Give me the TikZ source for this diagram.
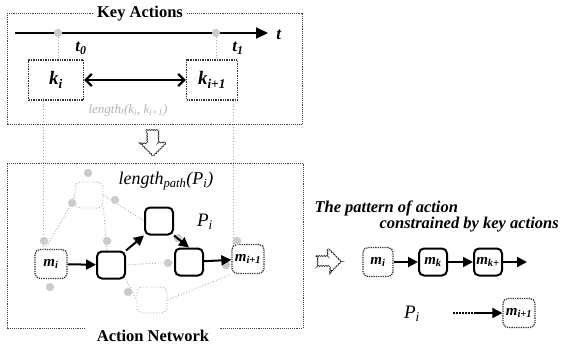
\documentclass[tikz,border=0pt]{standalone}
\usepackage{fontspec}
\setmainfont{Liberation Serif}
\usetikzlibrary{arrows.meta,decorations.pathmorphing}
\newcommand{\bi}[1]{\textbf{\textit{#1}}}
\begin{document}
\begin{tikzpicture}[x=1pt,y=-1pt,
  frame/.style={draw=black!75,densely dotted,line width=0.9pt},
  title/.style={fill=white,inner sep=3pt,font=\fontsize{16.5}{16.5}\selectfont\bfseries},
  hatch/.style={circle,fill=gray!40,draw=gray!60,densely dotted,minimum size=8pt,inner sep=0pt},
  keybox/.style={draw=black!80,densely dotted,line width=1.4pt,minimum height=40pt,inner sep=0pt,font=\fontsize{19}{19}\selectfont},
  mbox/.style={draw=black!80,densely dotted,line width=1.3pt,rounded corners=5pt,minimum width=32pt,minimum height=29pt,inner sep=0pt,font=\fontsize{15}{15}\selectfont},
  act/.style={draw,line width=2pt,rounded corners=5pt,minimum width=28pt,minimum height=27pt,inner sep=0pt,font=\fontsize{15}{15}\selectfont},
  ghost/.style={draw=gray!70,dotted,line width=0.9pt,rounded corners=6pt,minimum width=28pt,minimum height=26pt,inner sep=0pt},
  guide/.style={draw=gray!70,dotted,line width=0.9pt},
  flow/.style={line width=2pt,-{Triangle[length=10pt,width=10pt]}},
  hollow/.style={draw=black!80,line width=0.7pt,decorate,decoration={snake,amplitude=0.5pt,segment length=2.5pt}}]
\useasboundingbox (0,0) rectangle (568,345);

% key actions
\draw[frame] (7,13) rectangle (302,124);
\node[title] (keytitle) at (140,14) {Key Actions};
\coordinate (tstart) at (15,33);
\coordinate (tstop) at (268,33);
\draw[line width=2.2pt,-{Triangle[length=12pt,width=11pt]}] (tstart) -- (tstop);
\node (tlab) at (279,35) {\fontsize{17}{17}\selectfont\bi{t}};
\node[hatch] (d0) at (58,33) {};
\node[hatch] (d1) at (216,33) {};
\node (t0) at (81,48) {\fontsize{17}{17}\selectfont\bi{t\textsubscript{0}}};
\node (t1) at (238,48) {\fontsize{17}{17}\selectfont\bi{t\textsubscript{1}}};
\node[keybox,minimum width=55pt] (ki) at (56,80) {\bi{k\textsubscript{i}}};
\node[keybox,minimum width=51pt] (ki1) at (212,80) {\bi{k\textsubscript{i+1}}};
\draw[guide] (d0) -- (d0 |- ki.north);
\draw[guide] (d1) -- (d1 |- ki1.north);
\draw[line width=2.2pt,{Straight Barb[length=6pt,width=12pt]}-{Straight Barb[length=6pt,width=12pt]}] (ki) -- (ki1);
\node[text=gray!60] (lenk) at (128,110) {\fontsize{13}{13}\selectfont\textit{length\textsubscript{t}(k\textsubscript{i}, k\textsubscript{i+1})}};

% down arrow
\draw[hollow] (146,130) -- (158,130) -- (158,142) -- (165,142) -- (152,155) -- (139,142) -- (146,142) -- cycle;

% action network
\draw[frame] (85,328) -- (7,328) -- (7,163) -- (303,163) -- (303,328) -- (220,328);
\node[title] (nettitle) at (153,336) {Action Network};

\node[mbox] (mi) at (51,264) {\bi{m\textsubscript{i}}};
\node[act] (na) at (111,265) {};
\node[act] (nb) at (159,221) {};
\node[act] (nc) at (189,262) {};
\node[mbox] (mi1) at (248,259) {\bi{m\textsubscript{i+1}}};
\node[ghost] (ng1) at (89,195) {};
\node[ghost,minimum width=30pt] (ng2) at (152,300) {};

\draw[guide] ([xshift=-8pt]mi.north |- ki.south) -- ([xshift=-8pt]mi.north);
\draw[guide] ([xshift=21pt]ki1.south) -- ([xshift=21pt]ki1.south |- mi1.north);

\draw[guide] ([xshift=-6pt]mi.north) -- (72,203) -- (ng1.west);
\draw[guide] (ng1.south east) -- ([xshift=-4pt]na.north);
\draw[guide] (ng1.east) -- (nb.west);
\draw[guide] (na.east) -- (nc.west);
\draw[guide] (na.south east) -- (ng2.west);
\draw[guide] (ng2.east) -- (mi1.south west);

\node[hatch] (h1) at (88,173) {};
\node[hatch] (h2) at (72,203) {};
\node[hatch] (h3) at (115,200) {};
\node[hatch] (h4) at (44,241) {};
\node[hatch] (h5) at (50,287) {};
\node[hatch] (h6) at (107,241) {};
\node[hatch] (h7) at (128,292) {};
\node[hatch] (h8) at (168,263) {};
\node[hatch] (h9) at (178,238) {};
\node[hatch] (h10) at (226,265) {};
\node[hatch] (h11) at (237,241) {};

\draw[flow] (mi) -- (na);
\draw[flow] (na.north east) -- (nb.south west);
\draw[flow] (nb.south east) -- (nc.north);
\draw[flow] (nc) -- (mi1);

\node (lenp) at (166,181) {\fontsize{18}{18}\selectfont\textit{length\textsubscript{path}(P\textsubscript{i})}};
\node (pi) at (205,222) {\fontsize{19}{19}\selectfont\textit{P\textsubscript{i}}};

% pattern of action
\draw[hollow] (316,256) -- (328,256) -- (328,249) -- (341,262) -- (328,275) -- (328,268) -- (316,268) -- cycle;
\node[anchor=west] (pat1) at (311,208) {\fontsize{16.5}{16.5}\selectfont\bi{The pattern of action}};
\node[anchor=west] (pat2) at (376,225) {\fontsize{16.5}{16.5}\selectfont\bi{constrained by key actions}};

\node[mbox,minimum width=30pt] (rmi) at (378,262) {\bi{m\textsubscript{i}}};
\node[act] (rmk) at (433,262) {\bi{m\textsubscript{k}}};
\node[act] (rmk1) at (488,262) {\bi{m\textsubscript{k+}}};
\coordinate (rend) at (527,262);
\draw[flow] (rmi) -- (rmk);
\draw[flow] (rmk) -- (rmk1);
\draw[flow] (rmk1) -- (rend);

\node (rpi) at (412,314) {\fontsize{19}{19}\selectfont\textit{P\textsubscript{i}}};
\node[mbox] (rmi1) at (519,313) {\bi{m\textsubscript{i+1}}};
\coordinate (rdot) at (453,313);
\coordinate (rmid) at (476,313);
\draw[line width=2pt,densely dotted] (rdot) -- (rmid);
\draw[flow] (rmid) -- (rmi1.west);
\end{tikzpicture}
\end{document}
